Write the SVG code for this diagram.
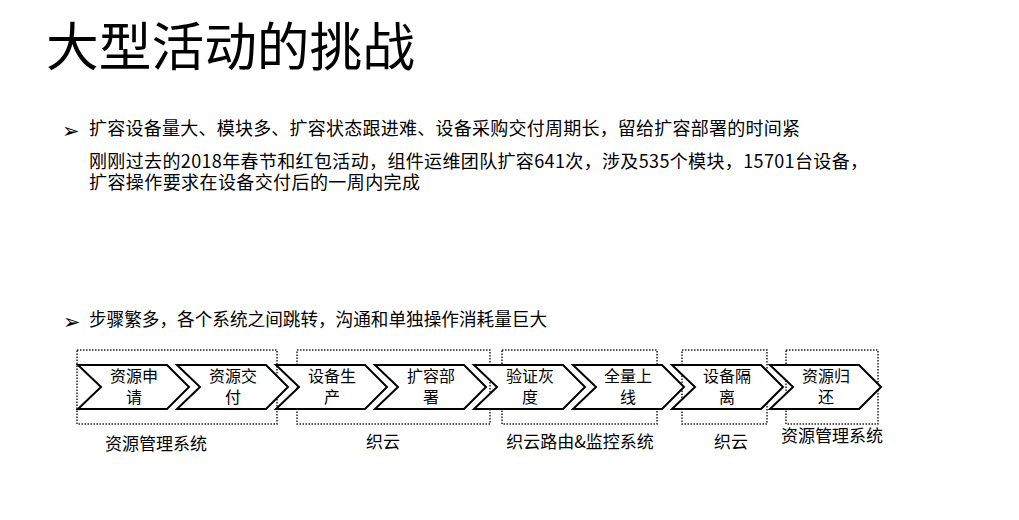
<svg xmlns="http://www.w3.org/2000/svg" width="1019" height="520" viewBox="0 0 1019 520">
<style>
text{font-family:"Noto Sans CJK SC","Microsoft YaHei",sans-serif;fill:#000}
.title{font-size:52px}
.body{font-size:18px}
.bul{font-family:"DejaVu Sans",sans-serif;font-size:21px}
.chev{fill:#fff;stroke:#000;stroke-width:2;stroke-linejoin:miter}
.ct{font-size:16px;text-anchor:middle}
.box{fill:none;stroke:#222;stroke-width:1.5;stroke-dasharray:1.5 1.5}
.bl{font-size:17px;text-anchor:middle}
</style>
<defs>
<path id="chev" d="M0,0 H89 L111,22 L89,44 H0 L23,22 Z"/>
</defs>
<rect width="1019" height="520" fill="#fff"/>
<text class="title" x="46" y="66" textLength="369" lengthAdjust="spacingAndGlyphs">大型活动的挑战</text>
<g id="bullet1">
<text class="bul" x="62" y="138">➢</text>
<text class="body" x="89" y="135" textLength="711" lengthAdjust="spacing">扩容设备量大、模块多、扩容状态跟进难、设备采购交付周期长，留给扩容部署的时间紧</text>
<text class="body" x="89" y="168" textLength="779" lengthAdjust="spacing">刚刚过去的2018年春节和红包活动，组件运维团队扩容641次，涉及535个模块，15701台设备，</text>
<text class="body" x="89" y="189" textLength="331" lengthAdjust="spacing">扩容操作要求在设备交付后的一周内完成</text>
</g>
<g id="bullet2">
<text class="bul" x="63" y="329">➢</text>
<text class="body" x="89" y="326" textLength="458" lengthAdjust="spacingAndGlyphs">步骤繁多，各个系统之间跳转，沟通和单独操作消耗量巨大</text>
</g>
<g id="groups">
<g id="g1"><rect class="box" x="77" y="350" width="200" height="74"/><text class="bl" x="156" y="450">资源管理系统</text></g>
<g id="g2"><rect class="box" x="297" y="350" width="193" height="74"/><text class="bl" x="383" y="448">织云</text></g>
<g id="g3"><rect class="box" x="502" y="350" width="155" height="74"/><text class="bl" x="580" y="448">织云路由&amp;监控系统</text></g>
<g id="g4"><rect class="box" x="682" y="350" width="85" height="74"/><text class="bl" x="731" y="448">织云</text></g>
<g id="g5"><rect class="box" x="786" y="350" width="92" height="74"/><text class="bl" x="832" y="442">资源管理系统</text></g>
</g>
<g id="steps">
<g id="s1"><use href="#chev" class="chev" x="78" y="365"/><text class="ct" x="134" y="382">资源申</text><text class="ct" x="134" y="403">请</text></g>
<g id="s2"><use href="#chev" class="chev" x="177" y="365"/><text class="ct" x="233" y="382">资源交</text><text class="ct" x="233" y="403">付</text></g>
<g id="s3"><use href="#chev" class="chev" x="276" y="365"/><text class="ct" x="332" y="382">设备生</text><text class="ct" x="332" y="403">产</text></g>
<g id="s4"><use href="#chev" class="chev" x="375" y="365"/><text class="ct" x="431" y="382">扩容部</text><text class="ct" x="431" y="403">署</text></g>
<g id="s5"><use href="#chev" class="chev" x="474" y="365"/><text class="ct" x="530" y="382">验证灰</text><text class="ct" x="530" y="403">度</text></g>
<g id="s6"><use href="#chev" class="chev" x="573" y="365"/><text class="ct" x="628" y="382">全量上</text><text class="ct" x="628" y="403">线</text></g>
<g id="s7"><use href="#chev" class="chev" x="672" y="365"/><text class="ct" x="727" y="382">设备隔</text><text class="ct" x="727" y="403">离</text></g>
<g id="s8"><use href="#chev" class="chev" x="770" y="365"/><text class="ct" x="826" y="382">资源归</text><text class="ct" x="826" y="403">还</text></g>
</g>
</svg>
